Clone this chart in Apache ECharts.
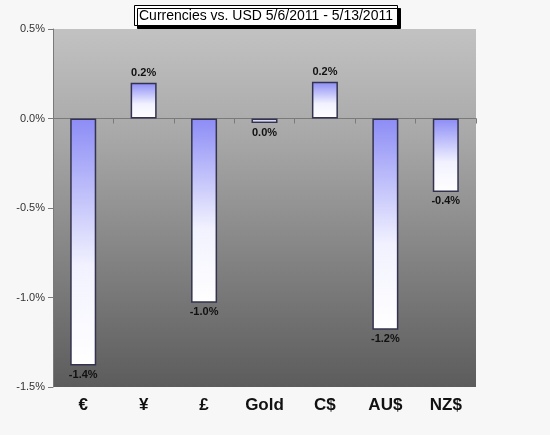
<!DOCTYPE html>
<html>
<head>
<meta charset="utf-8">
<script src="https://cdn.jsdelivr.net/npm/echarts@6/dist/echarts.min.js"></script>
<style>
  html, body { margin: 0; padding: 0; background: #f7f7f7; }
  #chart { width: 550px; height: 435px; }
</style>
</head>
<body>
<div id="chart"></div>
<script>
// weekly change vs USD, in percent
const currencies = ['€', '¥', '£', 'Gold', 'C$', 'AU$', 'NZ$'];
const changes = [-1.38, 0.2, -1.03, -0.025, 0.205, -1.18, -0.41];
const yTicks = [-1.5, -1.0, -0.5, 0.0, 0.5];

const barFill = new echarts.graphic.LinearGradient(0, 0, 0, 1, [
    { offset: 0, color: '#8c8cf6' },
    { offset: 0.6, color: '#f2f2ff' },
    { offset: 1, color: '#ffffff' }
]);

const chart = echarts.init(document.getElementById('chart'));
chart.setOption({
    backgroundColor: '#f7f7f7',
    animation: false,
    title: {
        text: 'Currencies vs. USD 5/6/2011 - 5/13/2011',
        left: 134,
        top: 5,
        padding: [4, 5, 3, 5],
        backgroundColor: '#ffffff',
        borderColor: '#000000',
        borderWidth: 1,
        shadowColor: '#000000',
        shadowOffsetX: 3,
        shadowOffsetY: 3,
        shadowBlur: 0,
        textStyle: {
            fontFamily: 'Arial, Liberation Sans, sans-serif',
            fontSize: 14,
            fontWeight: 'normal',
            color: '#000'
        }
    },
    grid: {
        left: 53,
        right: 74,
        top: 29,
        bottom: 48,
        show: true,
        borderWidth: 0,
        backgroundColor: new echarts.graphic.LinearGradient(0, 0, 0, 1, [
            { offset: 0, color: '#c2c2c2' },
            { offset: 0.3, color: '#a8a8a8' },
            { offset: 1, color: '#5c5c5c' }
        ])
    },
    xAxis: [
        {
            type: 'category',
            data: currencies,
            position: 'bottom',
            axisLine: { show: false, onZero: false },
            axisTick: { show: false },
            axisLabel: {
                margin: 10,
                fontFamily: 'Arial, Liberation Sans, sans-serif',
                fontSize: 17,
                fontWeight: 'bold',
                color: '#111'
            }
        },
        {
            type: 'category',
            data: currencies,
            position: 'bottom',
            axisLine: { show: true, onZero: true, lineStyle: { color: '#7a7a7a', width: 1 } },
            axisTick: { show: true, length: 5, lineStyle: { color: '#7a7a7a' } },
            axisLabel: { show: false }
        }
    ],
    yAxis: {
        type: 'value',
        min: yTicks[0],
        max: yTicks[yTicks.length - 1],
        interval: 0.5,
        axisLine: { show: true, lineStyle: { color: '#7a7a7a' } },
        axisTick: { show: true, length: 5, lineStyle: { color: '#7a7a7a' } },
        splitLine: { show: false },
        axisLabel: {
            fontFamily: 'Arial, Liberation Sans, sans-serif',
            fontSize: 11,
            color: '#333',
            margin: 8,
            formatter: v => v.toFixed(1) + '%'
        }
    },
    series: [{
        type: 'bar',
        xAxisIndex: 0,
        barWidth: 26,
        data: changes.map(v => ({
            value: v,
            label: { position: v >= 0 ? 'top' : 'bottom' }
        })),
        itemStyle: {
            color: barFill,
            borderColor: '#33334f',
            borderWidth: 1.5
        },
        label: {
            show: true,
            distance: 4,
            fontFamily: 'Arial, Liberation Sans, sans-serif',
            fontSize: 11,
            fontWeight: 'bold',
            color: '#111',
            formatter: p => (Math.abs(p.value) < 0.05 ? 0 : p.value).toFixed(1) + '%'
        }
    }]
});
</script>
</body>
</html>
